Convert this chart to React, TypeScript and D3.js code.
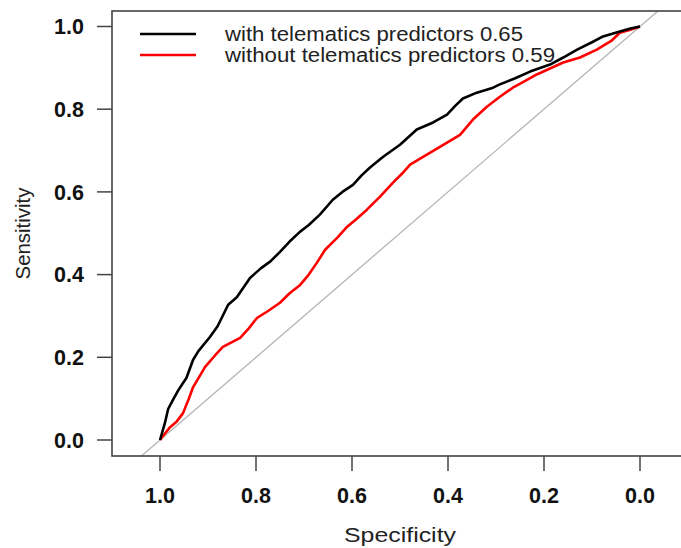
import React from "react";
import * as d3 from "d3";

const xTicks = [1.0, 0.8, 0.6, 0.4, 0.2, 0.0];
const yTicks = [0.0, 0.2, 0.4, 0.6, 0.8, 1.0];

const withSpec = [1.0, 0.99, 0.983, 0.973, 0.962, 0.952, 0.945, 0.931, 0.92, 0.896, 0.88, 0.858, 0.84, 0.8125, 0.79, 0.77, 0.75, 0.73, 0.708, 0.69, 0.667, 0.64, 0.62, 0.598, 0.58, 0.5625, 0.535, 0.5, 0.465, 0.431, 0.402, 0.385, 0.369, 0.34, 0.306, 0.292, 0.26, 0.229, 0.1875, 0.16, 0.131, 0.1, 0.077, 0.042, 0.02, 0.0];
const withSens = [0.0, 0.04, 0.075, 0.097, 0.12, 0.138, 0.15, 0.194, 0.215, 0.249, 0.275, 0.327, 0.345, 0.392, 0.415, 0.432, 0.455, 0.48, 0.504, 0.52, 0.545, 0.581, 0.6, 0.617, 0.64, 0.659, 0.685, 0.714, 0.751, 0.768, 0.787, 0.808, 0.826, 0.84, 0.852, 0.86, 0.875, 0.891, 0.908, 0.925, 0.944, 0.962, 0.976, 0.988, 0.995, 1.0];

const withoutSpec = [1.0, 0.99, 0.979, 0.965, 0.952, 0.94, 0.931, 0.906, 0.885, 0.869, 0.833, 0.815, 0.798, 0.775, 0.75, 0.73, 0.708, 0.69, 0.673, 0.656, 0.63, 0.61, 0.59, 0.569, 0.542, 0.515, 0.495, 0.479, 0.444, 0.402, 0.375, 0.348, 0.319, 0.292, 0.265, 0.24, 0.215, 0.16, 0.125, 0.09, 0.06, 0.042, 0.02, 0.0];
const withoutSens = [0.0, 0.015, 0.031, 0.045, 0.065, 0.1, 0.128, 0.177, 0.205, 0.225, 0.247, 0.27, 0.295, 0.312, 0.332, 0.355, 0.375, 0.4, 0.429, 0.46, 0.49, 0.516, 0.535, 0.557, 0.588, 0.622, 0.645, 0.666, 0.69, 0.719, 0.738, 0.775, 0.806, 0.83, 0.852, 0.868, 0.884, 0.913, 0.925, 0.944, 0.965, 0.985, 0.992, 1.0];

const seriesNames = ["with telematics predictors 0.65", "without telematics predictors 0.59"];
const seriesColors = ["#000000", "#ff0000"];

export default function App() {
  const W = 681, H = 548;
  const x = d3.scaleLinear().domain([1, 0]).range([160, 640]);
  const y = d3.scaleLinear().domain([0, 1]).range([440, 26.5]);
  const box = { l: 112, r: 688, t: 11, b: 456 };
  const line = d3.line<[number, number]>().x((d) => x(d[0])).y((d) => y(d[1]));
  const series = [
    withSpec.map((s, i) => [s, withSens[i]] as [number, number]),
    withoutSpec.map((s, i) => [s, withoutSens[i]] as [number, number]),
  ];
  const font = "Liberation Sans, Arial, sans-serif";
  const legendLen = [298, 330];
  return (
    <svg width={W} height={H} style={{ position: "absolute", left: 0, top: 0, background: "#fff" }} fontFamily={font}>
      <defs>
        <clipPath id="plotclip">
          <rect x={box.l} y={box.t} width={box.r - box.l} height={box.b - box.t} />
        </clipPath>
      </defs>
      <g clipPath="url(#plotclip)">
        <line x1={x(1.2)} y1={y(-0.2)} x2={x(-0.2)} y2={y(1.2)} stroke="#b5b5b5" strokeWidth={1.3} />
        {[1, 0].map((k) => (
          <path key={k} d={line(series[k]) || ""} fill="none" stroke={seriesColors[k]} strokeWidth={2.6} strokeLinejoin="round" />
        ))}
      </g>
      <rect x={box.l} y={box.t} width={box.r - box.l} height={box.b - box.t} fill="none" stroke="#444" strokeWidth={1.6} />
      {yTicks.map((t) => (
        <g key={"y" + t}>
          <line x1={97} x2={box.l} y1={y(t)} y2={y(t)} stroke="#444" strokeWidth={1.5} />
          <text x={84} y={y(t)} dy="0.36em" textAnchor="end" fontWeight="bold" fontSize={21.5} fill="#111">{t.toFixed(1)}</text>
        </g>
      ))}
      {xTicks.map((t) => (
        <g key={"x" + t}>
          <line x1={x(t)} x2={x(t)} y1={box.b} y2={471} stroke="#444" strokeWidth={1.5} />
          <text x={x(t)} y={503} textAnchor="middle" fontWeight="bold" fontSize={21.5} fill="#111">{t.toFixed(1)}</text>
        </g>
      ))}
      <text x={400} y={542} textAnchor="middle" fontSize={20} fill="#222" textLength={112} lengthAdjust="spacingAndGlyphs">Specificity</text>
      <text transform={`translate(30,${(box.t + box.b) / 2}) rotate(-90)`} textAnchor="middle" fontSize={20} fill="#222" textLength={92} lengthAdjust="spacingAndGlyphs">Sensitivity</text>
      {seriesNames.map((n, i) => (
        <g key={n}>
          <line x1={140} x2={196} y1={34 + i * 21} y2={34 + i * 21} stroke={seriesColors[i]} strokeWidth={2.6} />
          <text x={225} y={41 + i * 21} fontSize={19.5} fill="#222" textLength={legendLen[i]} lengthAdjust="spacingAndGlyphs">{n}</text>
        </g>
      ))}
    </svg>
  );
}
